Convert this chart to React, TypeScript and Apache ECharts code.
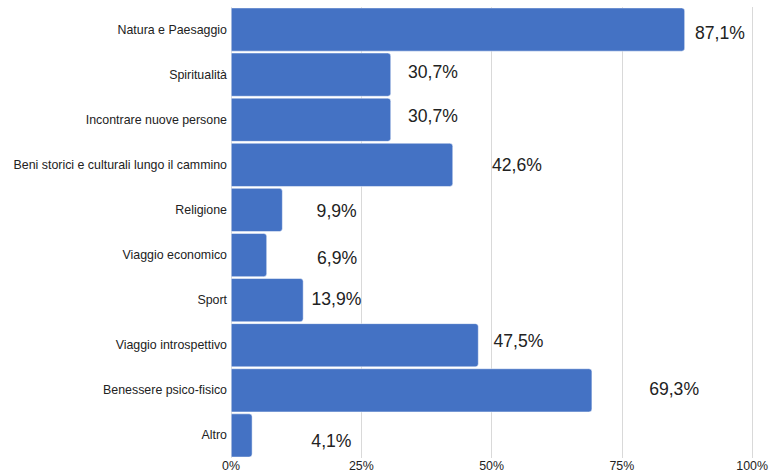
import React, { useEffect, useRef } from "react";
import * as echarts from "echarts";

const categories = [
  "Natura e Paesaggio",
  "Spiritualità",
  "Incontrare nuove persone",
  "Beni storici e culturali lungo il cammino",
  "Religione",
  "Viaggio economico",
  "Sport",
  "Viaggio introspettivo",
  "Benessere psico-fisico",
  "Altro",
];
const values = [87.1, 30.7, 30.7, 42.6, 9.9, 6.9, 13.9, 47.5, 69.3, 4.1];
// label layout: [distance from bar end, vertical offset]
const labelOffsets: [number, number][] = [
  [10, 3], [17, -3], [17, -4], [39, 0], [34, 1], [50, 3], [8, -1], [15, -4], [57, -1], [59, 6],
];
const xTicks = [0, 25, 50, 75, 100];

export default function App() {
  const ref = useRef<HTMLDivElement>(null);
  useEffect(() => {
    if (!ref.current) return;
    const chart = echarts.init(ref.current, undefined, { renderer: "svg" });
    const cats = [...categories].reverse();
    const data = values
      .map((v, i) => ({
        value: v,
        label: {
          distance: labelOffsets[i][0],
          offset: [0, labelOffsets[i][1]],
        },
      }))
      .reverse();
    chart.setOption({
      animation: false,
      grid: { left: 231, right: 16, top: 7, bottom: 14, containLabel: false },
      xAxis: {
        type: "value",
        min: 0,
        max: 100,
        interval: 25,
        axisLabel: {
          formatter: (v: number) => (xTicks.includes(v) ? v + "%" : ""),
          fontFamily: "Liberation Sans",
          fontSize: 12.4,
          color: "#222",
          margin: 2,
        },
        axisLine: { show: false },
        axisTick: { show: false },
        splitLine: { show: true, lineStyle: { color: "#d9d9d9", width: 1 } },
      },
      yAxis: {
        type: "category",
        data: cats,
        axisLabel: {
          fontFamily: "Liberation Sans",
          fontSize: 12.4,
          color: "#222",
          margin: 4,
        },
        axisLine: { show: false },
        axisTick: { show: false },
      },
      series: [
        {
          type: "bar",
          data,
          barCategoryGap: "3%",
          itemStyle: {
            color: "#4472C4",
            borderRadius: [0, 3, 3, 0],
            borderColor: "#ffffff",
            borderWidth: 0.5,
          },
          label: {
            show: true,
            position: "right",
            formatter: (p: any) => String(p.value).replace(".", ",") + "%",
            fontFamily: "Liberation Sans",
            fontSize: 17.6,
            color: "#222",
          },
        },
      ],
    });
    return () => chart.dispose();
  }, []);
  return <div ref={ref} style={{ width: 771, height: 472, position: "absolute", left: 0, top: 0 }} />;
}
